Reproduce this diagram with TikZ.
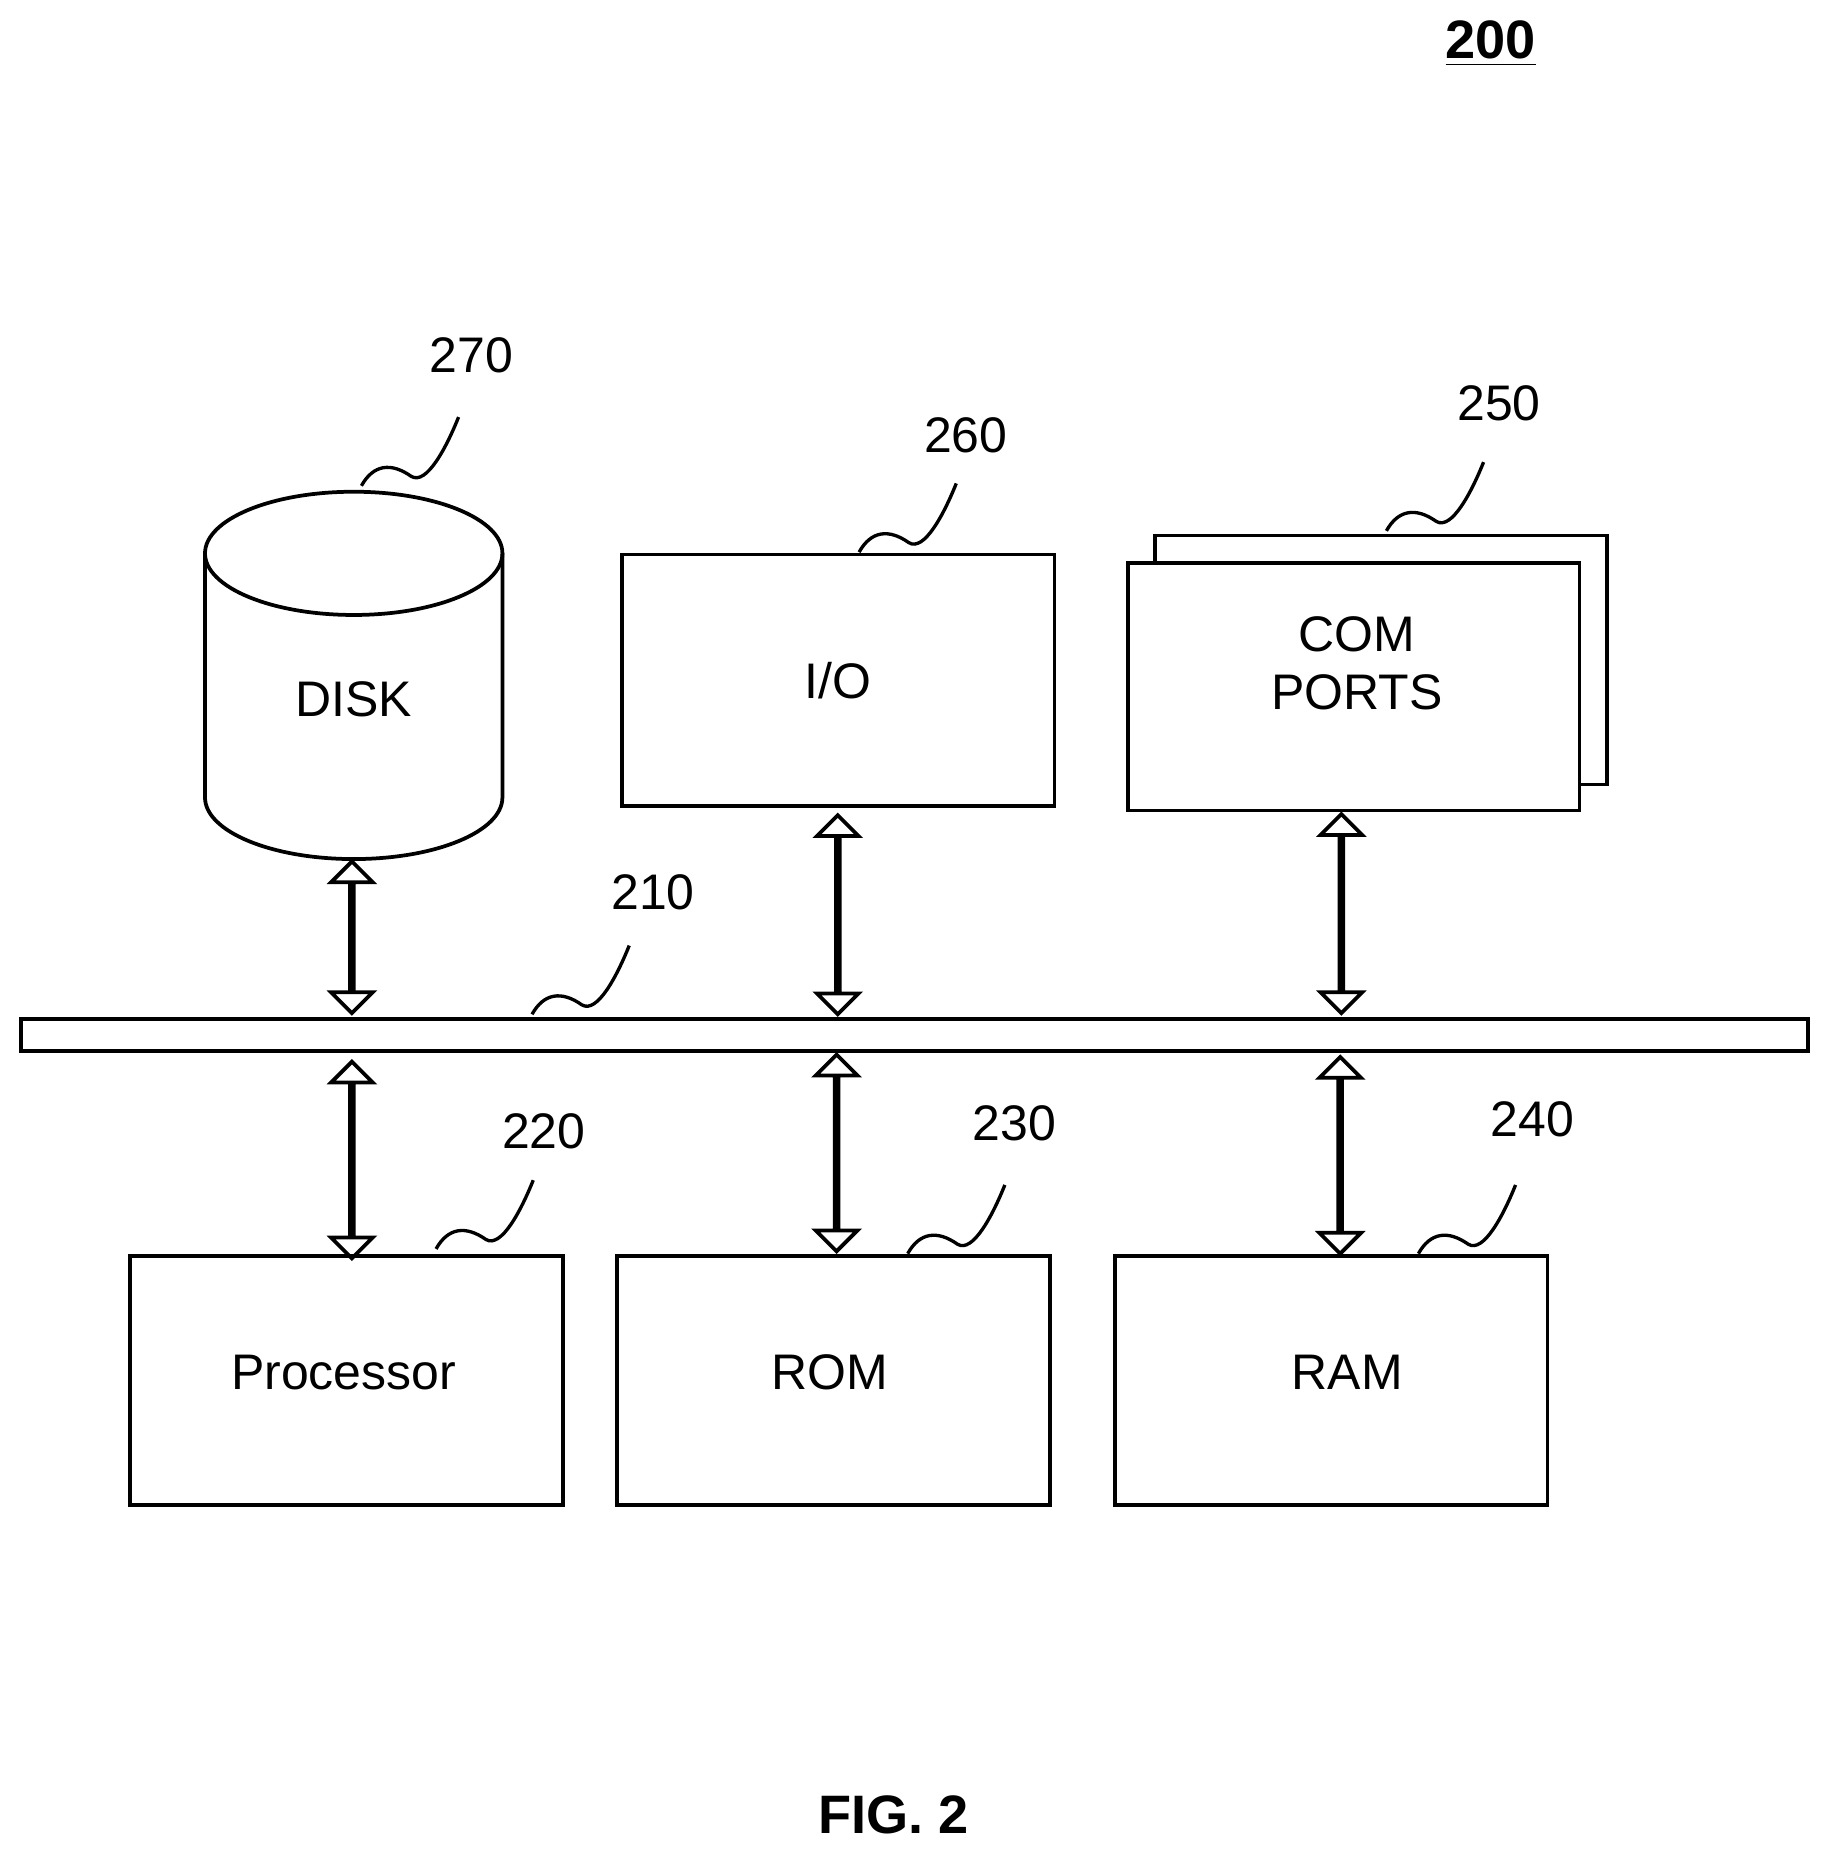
\documentclass[tikz,border=0pt]{standalone}
\usepackage{fontspec}
\setmainfont{Liberation Sans}
\usetikzlibrary{shapes.arrows}

\tikzset{
  blk/.style={draw, line width=0.9pt},
  lbl/.style={font=\fontsize{12}{14}\selectfont},
  bus arrow/.style={draw, line width=0.9pt, shape=double arrow, rotate=90,
      minimum width=0.30cm, double arrow head extend=0.16cm, inner sep=0pt},
  leader/.style={line width=0.8pt}
}
% wavy leader line from a start point
\newcommand{\wave}[1]{%
  \draw[leader] (#1) .. controls +(0.1,0.18) and +(-0.17,0.12) .. ++(0.42,0.08)
     .. controls +(0.13,-0.08) and +(-0.1,-0.25) .. ++(0.40,0.50);}

\begin{document}
\begin{tikzpicture}
\useasboundingbox (0,0) rectangle (15.44,15.68);

% title
\node (fignum) at (12.58,15.31) {\fontsize{13}{15}\selectfont\bfseries\underline{200}};
\node (figcap) at (7.54,0.36) {\fontsize{13}{15}\selectfont\bfseries FIG. 2};

% disk
\draw[blk] (1.73,11.01) -- (1.73,8.95) arc[start angle=180, end angle=360, x radius=1.255, y radius=0.52] -- (4.24,11.01);
\draw[blk] (2.985,11.01) ellipse[x radius=1.255, y radius=0.52];
\node[lbl] (disk) at (2.985,9.78) {DISK};

% top boxes
\draw[blk] (5.25,8.88) rectangle (8.90,11.0);
\node[lbl] (io) at (7.07,9.94) {I/O};
\draw[blk] (9.75,9.06) rectangle (13.56,11.16);
\draw[blk, fill=white] (9.52,8.84) rectangle (13.33,10.93);
\node[lbl, align=center] (com) at (11.45,10.08) {COM\\PORTS};

% bus
\draw[blk] (0.18,6.81) rectangle (15.26,7.08);

% bottom boxes
\draw[blk] (1.10,2.98) rectangle (4.75,5.08);
\node[lbl] (proc) at (2.90,4.10) {Processor};
\draw[blk] (5.21,2.98) rectangle (8.86,5.08);
\node[lbl] (rom) at (7.00,4.10) {ROM};
\draw[blk] (9.41,2.98) rectangle (13.06,5.08);
\node[lbl] (ram) at (11.37,4.10) {RAM};

% arrows to bus
\node[bus arrow, minimum height=1.28cm] (a270) at (2.97,7.77) {};
\node[bus arrow, minimum height=1.68cm] (a260) at (7.07,7.96) {};
\node[bus arrow, minimum height=1.68cm] (a250) at (11.32,7.97) {};
\node[bus arrow, minimum height=1.66cm] (a220) at (2.97,5.89) {};
\node[bus arrow, minimum height=1.66cm] (a230) at (7.06,5.95) {};
\node[bus arrow, minimum height=1.66cm] (a240) at (11.31,5.93) {};

% reference numerals
\node[lbl] (n270) at (3.98,12.68) {270};
\node[lbl] (n260) at (8.15,12.01) {260};
\node[lbl] (n250) at (12.65,12.28) {250};
\node[lbl] (n210) at (5.51,8.15) {210};
\node[lbl] (n220) at (4.59,6.13) {220};
\node[lbl] (n230) at (8.56,6.20) {230};
\node[lbl] (n240) at (12.93,6.23) {240};

\foreach \p in {{3.05,11.58},{7.25,11.02},{11.70,11.20},{4.49,7.12},{3.68,5.14},{7.66,5.10},{11.97,5.10}}
  {\wave{\p}}

\end{tikzpicture}
\end{document}
